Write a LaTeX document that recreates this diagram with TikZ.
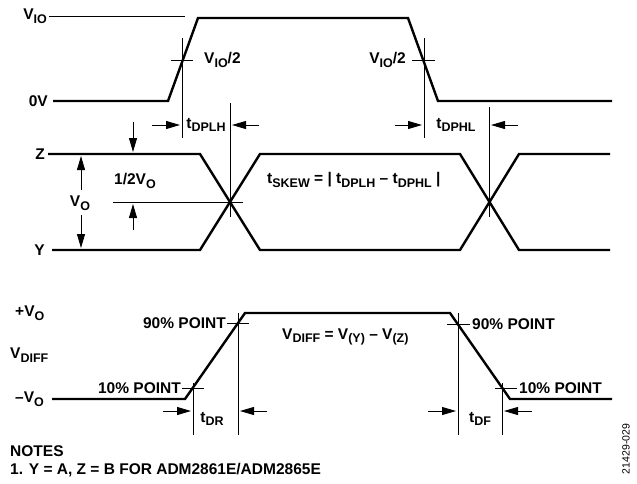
\documentclass[tikz,border=0pt]{standalone}
\usepackage{fontspec}
\setmainfont{Liberation Sans}
\usetikzlibrary{arrows.meta}
\newcommand{\lo}[1]{\raisebox{-0.45ex}{\fontsize{12.5}{12.5}\selectfont #1}}
\tikzset{
  sig/.style={line width=2.4pt, line join=miter},
  guide/.style={line width=0.9pt},
  dimarrow/.style={line width=0.9pt, -{Triangle[length=14pt,width=8pt]}},
  lbl/.style={font=\bfseries\fontsize{15.5}{18}\selectfont, inner sep=1pt},
}
\begin{document}
\begin{tikzpicture}[x=1pt, y=-1pt]
  \useasboundingbox (0,0) rectangle (637,483);
  % input levels
  \node[lbl, anchor=east] (vio) at (48,16) {V\lo{IO}};
  \node[lbl, anchor=east] (zerov) at (49,101) {0V};
  \draw[guide] (49,16) -- (185,16);
  \draw[sig] (53,101) -- (168,101) -- (198,18) -- (408,18) -- (438,101) -- (612,101);
  % half-way marks on the input
  \draw[guide] (171,60) -- (193,60);
  \draw[guide] (182,38) -- (182,138);
  \draw[guide] (412,60) -- (435,60);
  \draw[guide] (424,38) -- (424,138);
  \node[lbl, anchor=west] (halfa) at (203,60) {V\lo{IO}/2};
  \node[lbl, anchor=east] (halfb) at (407,60) {V\lo{IO}/2};
  % outputs Z and Y
  \node[lbl, anchor=east] (zlbl) at (46,154) {Z};
  \node[lbl, anchor=east] (ylbl) at (46,250) {Y};
  \draw[sig] (48,154) -- (200,154) -- (260,250) -- (460,250) -- (519,154) -- (610,154);
  \draw[sig] (52,250) -- (200,250) -- (260,154) -- (460,154) -- (519,250) -- (610,250);
  \draw[guide] (113,202) -- (243,202);
  \draw[guide] (230,103) -- (230,217);
  \draw[guide] (489,107) -- (489,217);
  % propagation delays
  \draw[dimarrow] (152,125) -- (180,125);
  \draw[dimarrow] (259,125) -- (232,125);
  \node[lbl] (tplh) at (206,125) {t\lo{DPLH}};
  \draw[dimarrow] (395,125) -- (422,125);
  \draw[dimarrow] (518,125) -- (491,125);
  \node[lbl] (tphl) at (456,125) {t\lo{DPHL}};
  % output swing
  \draw[dimarrow] (81,190) -- (81,156);
  \draw[dimarrow] (81,215) -- (81,248);
  \node[lbl] (vo) at (80,203) {V\lo{O}};
  \draw[dimarrow] (133,122) -- (133,152);
  \draw[dimarrow] (133,230) -- (133,204);
  \node[lbl] (halfvo) at (135,181) {1/2V\lo{O}};
  \node[lbl, anchor=west] (skew) at (266,180) {t\lo{SKEW} = | t\lo{DPLH} – t\lo{DPHL} |};
  % differential output
  \node[lbl, anchor=west] (plusvo) at (14,313) {+V\lo{O}};
  \node[lbl, anchor=west] (vdiff) at (9,355) {V\lo{DIFF}};
  \node[lbl, anchor=west] (minusvo) at (14,399) {–V\lo{O}};
  \draw[sig] (52,399) -- (185,399) -- (245,313) -- (450,313) -- (510,399) -- (612,399);
  \draw[guide] (182,388) -- (204,388);
  \draw[guide] (227,323) -- (249,323);
  \draw[guide] (447,324) -- (470,324);
  \draw[guide] (495,388) -- (517,388);
  \draw[guide] (193,383) -- (193,435);
  \draw[guide] (238,313) -- (238,435);
  \draw[guide] (458,313) -- (458,435);
  \draw[guide] (502,383) -- (502,435);
  \node[lbl, anchor=east] (nineta) at (227,323) {90\% POINT};
  \node[lbl, anchor=east] (tena) at (182,388) {10\% POINT};
  \node[lbl, anchor=west] (ninetb) at (471,324) {90\% POINT};
  \node[lbl, anchor=west] (tenb) at (518,388) {10\% POINT};
  \node[lbl, anchor=west] (vdiffeq) at (281,337) {V\lo{DIFF} = V\lo{(Y)} – V\lo{(Z)}};
  % rise and fall times
  \draw[dimarrow] (163,411) -- (191,411);
  \draw[dimarrow] (267,411) -- (240,411);
  \node[lbl] (tdr) at (212,419) {t\lo{DR}};
  \draw[dimarrow] (428,411) -- (456,411);
  \draw[dimarrow] (532,411) -- (504,411);
  \node[lbl] (tdf) at (480,419) {t\lo{DF}};
  % notes
  \node[lbl, anchor=west] (notes) at (9,451) {NOTES};
  \node[lbl, anchor=west] (note1) at (9,470) {1. Y = A, Z = B FOR ADM2861E/ADM2865E};
  \node[font=\fontsize{10.5}{11}\selectfont, rotate=90, inner sep=0pt] (figno) at (626,449) {21429-029};
\end{tikzpicture}
\end{document}
